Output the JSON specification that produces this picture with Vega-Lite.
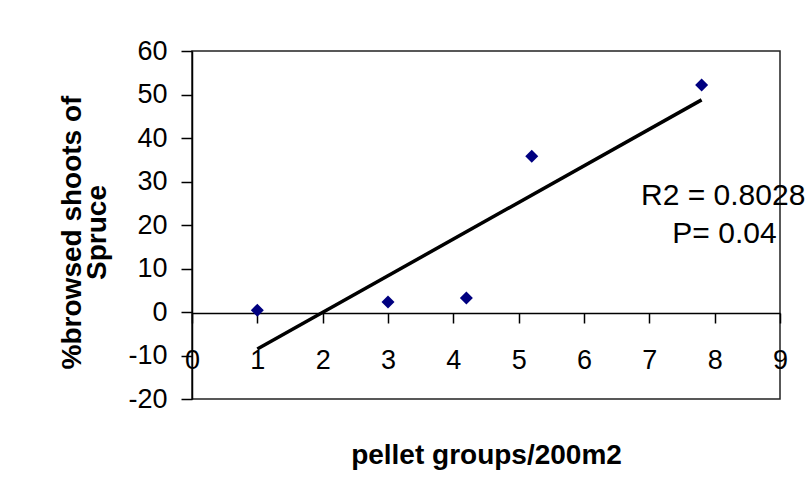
{
  "$schema": "https://vega.github.io/schema/vega-lite/v6.json",
  "width": 588,
  "height": 348,
  "autosize": {"type": "none"},
  "padding": {"left": 192, "top": 51, "right": 28, "bottom": 98},
  "background": "white",
  "config": {
    "font": "Liberation Sans",
    "view": {"stroke": "#222222", "strokeWidth": 1.5},
    "axis": {"grid": false, "labelFlush": false, "domainColor": "black", "tickColor": "black", "labelColor": "black", "titleColor": "black", "domainWidth": 1.5, "tickWidth": 1.5, "labelFont": "Liberation Sans", "titleFont": "Liberation Sans"}
  },
  "datasets": {
    "pts": [
      {"x": 1.0, "y": 0.4},
      {"x": 3.0, "y": 2.3},
      {"x": 4.2, "y": 3.2},
      {"x": 5.2, "y": 35.8},
      {"x": 7.8, "y": 52.2}
    ],
    "notes": [
      {"x": 8.13, "y": 26.7, "label": "R2 = 0.8028"},
      {"x": 8.15, "y": 17.9, "label": "P= 0.04"}
    ]
  },
  "layer": [
    {
      "data": {"name": "pts"},
      "transform": [{"regression": "y", "on": "x", "method": "linear"}],
      "mark": {"type": "line", "color": "black", "strokeWidth": 3.5},
      "encoding": {
        "x": {"field": "x", "type": "quantitative", "scale": {"domain": [0, 9], "nice": false}},
        "y": {"field": "y", "type": "quantitative", "scale": {"domain": [-20, 60], "nice": false}}
      }
    },
    {
      "data": {"name": "pts"},
      "mark": {"type": "point", "shape": "diamond", "filled": true, "color": "#000080", "size": 169, "opacity": 1},
      "encoding": {
        "x": {
          "field": "x", "type": "quantitative",
          "scale": {"domain": [0, 9], "nice": false},
          "axis": {"values": [0,1,2,3,4,5,6,7,8,9], "labelExpr": "'' + datum.value", "offset": -86, "tickSize": 10, "labelPadding": 24, "labelFontSize": 27, "labelFontWeight": "normal", "title": "pellet groups/200m2", "titleFontSize": 28, "titleFontWeight": "bold", "titlePadding": 68}
        },
        "y": {
          "field": "y", "type": "quantitative",
          "scale": {"domain": [-20, 60], "nice": false},
          "axis": {"values": [-20,-10,0,10,20,30,40,50,60], "labelExpr": "'' + datum.value", "tickSize": 11, "labelPadding": 14, "labelFontSize": 27, "title": ["%browsed shoots of", "Spruce"], "titleFontSize": 28, "titleFontWeight": "bold", "titlePadding": 16, "titleLineHeight": 25, "titleY": 181}
        }
      }
    },
    {
      "data": {"name": "notes"},
      "mark": {"type": "text", "fontSize": 30, "align": "center", "baseline": "middle", "color": "black", "font": "Liberation Sans"},
      "encoding": {
        "x": {"field": "x", "type": "quantitative"},
        "y": {"field": "y", "type": "quantitative"},
        "text": {"field": "label"}
      }
    }
  ]
}
